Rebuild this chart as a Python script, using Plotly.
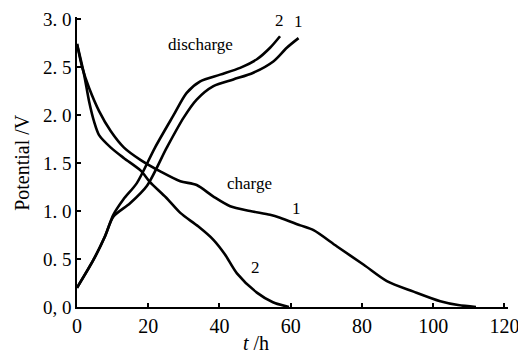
import plotly.graph_objects as go

# Charge curves (t in h, potential in V)
charge1_t = [0, 1.5, 3.4, 6.2, 9.5, 13.2, 17.9, 23.5, 29, 33.6, 38.3, 43, 48.6, 54.2, 57, 62.7, 66.4, 73, 80.5, 87, 94.5, 102, 107, 112]
charge1_v = [2.74, 2.49, 2.28, 2.04, 1.83, 1.66, 1.53, 1.41, 1.31, 1.27, 1.15, 1.05, 1.0, 0.96, 0.93, 0.85, 0.80, 0.63, 0.44, 0.27, 0.16, 0.06, 0.02, 0.0]
charge2_t = [0, 2.0, 3.4, 4.8, 6.2, 9.5, 13.2, 17.9, 20.5, 25, 29, 34, 38.3, 41.5, 44.9, 50.5, 55, 59.5]
charge2_v = [2.74, 2.42, 2.14, 1.93, 1.79, 1.66, 1.55, 1.42, 1.30, 1.14, 0.98, 0.84, 0.70, 0.55, 0.35, 0.15, 0.05, 0.0]

# Discharge curves
dis1_t = [0, 4.6, 7.9, 10.2, 14.9, 19.6, 25.2, 29.9, 33.6, 38.3, 43.9, 49.5, 55.2, 58.9, 62.2]
dis1_v = [0.2, 0.49, 0.74, 0.94, 1.08, 1.26, 1.66, 1.97, 2.16, 2.30, 2.37, 2.44, 2.56, 2.70, 2.80]
dis2_t = [0, 4.6, 7.9, 10.2, 13, 16.8, 21.9, 27, 30.8, 34.6, 40.2, 45.8, 50.5, 54.2, 57]
dis2_v = [0.2, 0.49, 0.74, 0.96, 1.12, 1.29, 1.66, 1.99, 2.23, 2.35, 2.42, 2.49, 2.58, 2.70, 2.82]

x_ticks = [0, 20, 40, 60, 80, 100, 120]
x_tick_labels = ["0", "20", "40", "60", "80", "100", "120"]
y_ticks = [0, 0.5, 1.0, 1.5, 2.0, 2.5, 3.0]
y_tick_labels = ["0,\u00a00", "0.\u00a05", "1.\u00a00", "1.\u00a05", "2.\u00a00", "2.\u00a05", "3.\u00a00"]

FONT = "Liberation Serif, Times New Roman, serif"
line = dict(color="black", width=2.6, shape="spline", smoothing=0.8)

fig = go.Figure()
for t, v in [(charge1_t, charge1_v), (charge2_t, charge2_v), (dis1_t, dis1_v), (dis2_t, dis2_v)]:
    fig.add_trace(go.Scatter(x=t, y=v, mode="lines", line=line, showlegend=False, hoverinfo="skip"))

ann = [
    ("discharge", 34.6, 2.73),
    ("charge", 48.3, 1.29),
    ("1", 61.7, 1.03),
    ("2", 50.0, 0.41),
    ("2", 56.8, 2.98),
    ("1", 62.1, 2.97),
]
for txt, x, y in ann:
    fig.add_annotation(x=x, y=y, text=txt, showarrow=False, xref="x", yref="y",
                       font=dict(family=FONT, size=17, color="black"))

fig.add_annotation(x=0.415, y=-0.125, xref="paper", yref="paper", showarrow=False,
                   text="<i>t</i> /h", font=dict(family=FONT, size=20, color="black"),
                   yanchor="middle")
fig.add_annotation(x=-0.128, y=0.5, xref="paper", yref="paper", showarrow=False,
                   text="Potential /V", textangle=-90, font=dict(family=FONT, size=20, color="black"),
                   xanchor="center", yanchor="middle")

# the page body adds an 8px offset; the figure is sized so the plot lands where the reference has it
fig.update_layout(
    width=518, height=348,
    margin=dict(l=69, r=18, t=9, b=49, autoexpand=False),
    paper_bgcolor="white", plot_bgcolor="white",
    font=dict(family=FONT, size=18, color="black"),
    xaxis=dict(range=[0, 121], tickvals=x_ticks, ticktext=x_tick_labels, automargin=False,
               showline=True, linecolor="black", linewidth=1.6, showgrid=False, zeroline=False,
               ticks="inside", ticklen=4, tickcolor="black", tickwidth=1.5,
               tickfont=dict(family=FONT, size=20)),
    yaxis=dict(range=[0, 3.02], tickvals=y_ticks, ticktext=y_tick_labels, automargin=False,
               showline=True, linecolor="black", linewidth=1.6, showgrid=False, zeroline=False,
               ticks="inside", ticklen=4, tickcolor="black", tickwidth=1.5,
               tickfont=dict(family=FONT, size=19)),
)

fig.write_html("out.html")
